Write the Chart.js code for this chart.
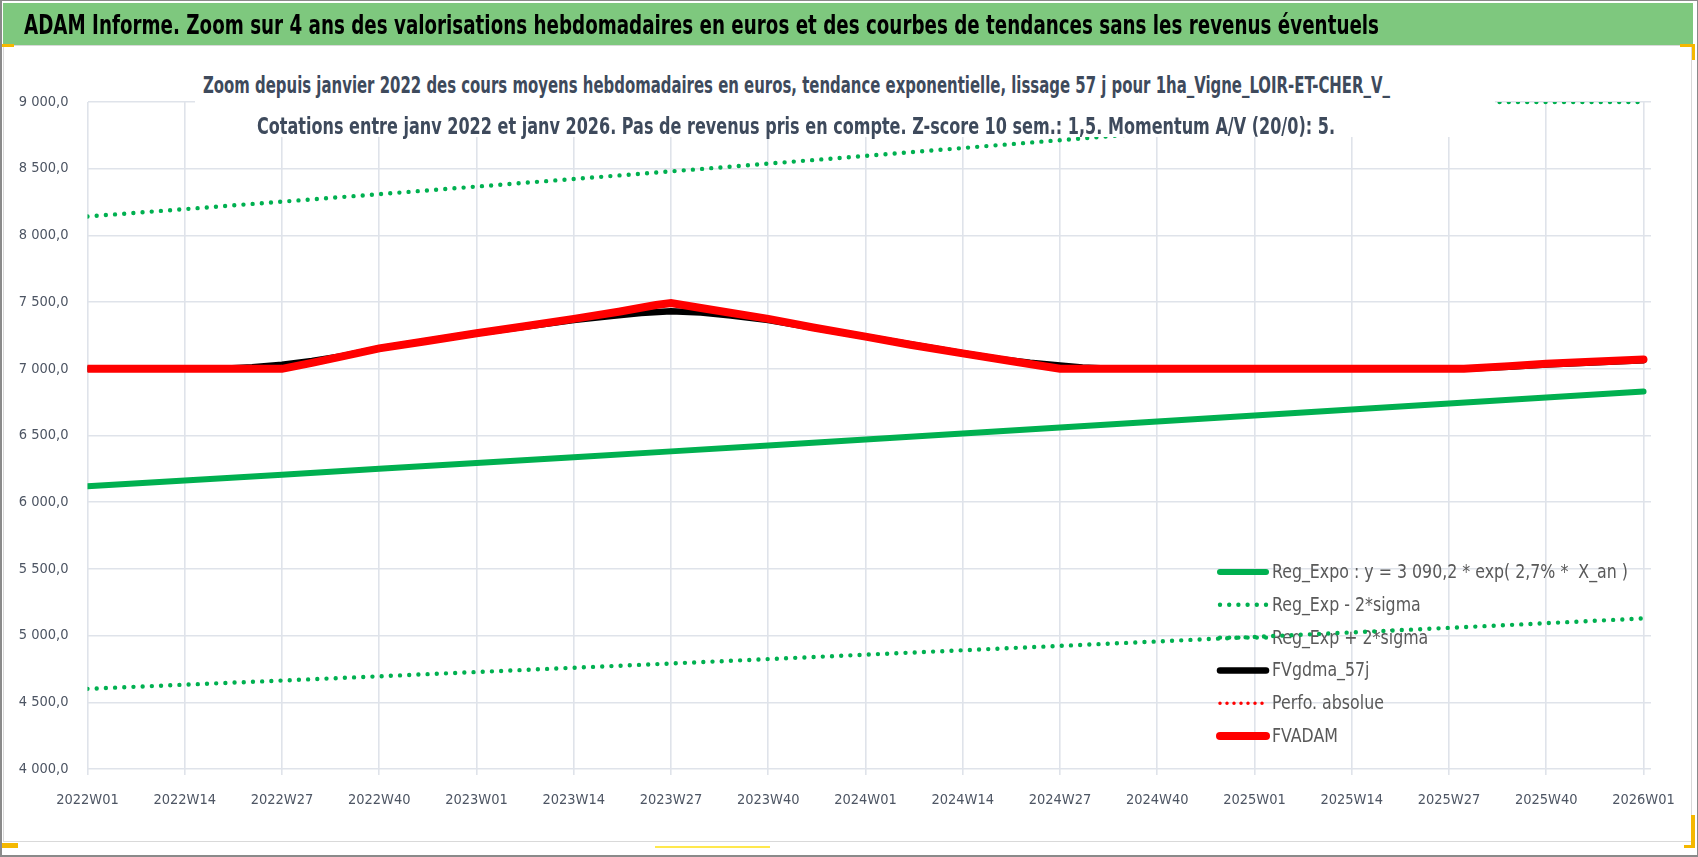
<!DOCTYPE html>
<html>
<head>
<meta charset="utf-8">
<script src="https://cdn.jsdelivr.net/npm/chart.js@4.4.1/dist/chart.umd.min.js"></script>
<style>
  html, body { margin: 0; padding: 0; background: #fff; }
  #page { position: relative; width: 1698px; height: 857px; overflow: hidden; background: #fff; }
  #outer { position: absolute; left: 0; top: 0; width: 1698px; height: 857px; box-sizing: border-box;
           border: 1px solid #8a8a8a; border-left-width: 2px; border-bottom-width: 2px; z-index: 6; pointer-events: none; }
  #box { position: absolute; left: 3px; top: 45px; width: 1689px; height: 797px; box-sizing: border-box;
         border: 1px solid #d9d9d9; }
  #banner { position: absolute; left: 3px; top: 3px; width: 1690px; height: 42px; background: #7ec87e; z-index: 2; }
  #chartCanvas { position: absolute; left: 0; top: 0; z-index: 3; }
  #subBox { position: absolute; left: 195px; top: 60px; width: 1300px; height: 77px; background: #fff; z-index: 4; }
  .txt { position: absolute; white-space: nowrap; line-height: 1; z-index: 5; }
  #bannerText { color: #000; font-weight: 600; transform-origin: 0 50%; }
  .sub { color: #3e4a5c; font-weight: 700; transform-origin: 0 50%; }
  .mark { position: absolute; background: #f5b800; z-index: 7; }
</style>
</head>
<body>
<div id="page">
  <div id="box"></div>
  <div id="banner"></div>
  <canvas id="chartCanvas" width="1698" height="857"></canvas>
  <div id="subBox"></div>
  <div id="bannerText" class="txt">ADAM Informe. Zoom sur 4 ans des valorisations hebdomadaires en euros et des courbes de tendances sans les revenus éventuels</div>
  <div id="sub1" class="txt sub">Zoom depuis janvier 2022 des cours moyens hebdomadaires en euros, tendance exponentielle, lissage 57 j pour 1ha_Vigne_LOIR-ET-CHER_V_</div>
  <div id="sub2" class="txt sub">Cotations entre janv 2022 et janv 2026. Pas de revenus pris en compte. Z-score 10 sem.: 1,5. Momentum A/V (20/0): 5.</div>
  <div class="mark" style="left:2px;top:44px;width:12px;height:3px;"></div>
  <div class="mark" style="left:2px;top:843px;width:16px;height:5px;"></div>
  <div class="mark" style="left:1680px;top:44px;width:15px;height:3px;"></div>
  <div class="mark" style="left:1692px;top:44px;width:3px;height:16px;"></div>
  <div class="mark" style="left:1691px;top:815px;width:4px;height:33px;"></div>
  <div class="mark" style="left:1684px;top:845px;width:11px;height:3px;"></div>
  <div class="mark" style="left:655px;top:846px;width:115px;height:2px;background:#ffe84d;"></div>
  <div id="outer"></div>
</div>
<script>
// ---------- DATA ----------
// x = week index from 2022W01 (0) to 2026W01 (208)
const tickWeeks  = [0, 13, 26, 39, 52, 65, 78, 91, 104, 117, 130, 143, 156, 169, 182, 195, 208];
const tickLabels = ['2022W01','2022W14','2022W27','2022W40','2023W01','2023W14','2023W27','2023W40',
                    '2024W01','2024W14','2024W27','2024W40','2025W01','2025W14','2025W27','2025W40','2026W01'];

const seriesNames = [
  'Reg_Expo : y = 3 090,2 * exp( 2,7% *  X_an )',
  'Reg_Exp - 2*sigma',
  'Reg_Exp + 2*sigma',
  'FVgdma_57j',
  'Perfo. absolue',
  'FVADAM'
];

// Exponential trend (quarterly readings)
const trendWeeks = [0, 13, 26, 39, 52, 65, 78, 91, 104, 117, 130, 143, 156, 169, 182, 195, 208];
const regExpo    = [6120, 6163, 6206, 6250, 6293, 6337, 6381, 6425, 6470, 6515, 6560, 6605, 6650, 6695, 6740, 6785, 6830];
const regExpMinus2Sigma = [4601, 4632, 4663, 4695, 4727, 4759, 4791, 4824, 4857, 4890, 4923, 4956, 4990, 5024, 5058, 5093, 5129];

const upperWeeks = [0, 13, 26, 39, 52, 65, 78, 91, 104, 117, 130, 143, 156, 169, 182, 188, 208];
const regExpPlus2Sigma  = [8142, 8197, 8253, 8309, 8366, 8423, 8480, 8538, 8596, 8655, 8714, 8773, 8833, 8893, 8954, 9000, 9000];

// FVgdma_57j (black, smoothed)
const gdmaWeeks = [0, 18, 22, 26, 30, 34, 39, 52, 65, 70, 74, 78, 82, 86, 91, 104, 117, 122, 126, 130, 133, 137, 184, 190, 195, 208];
const fvgdma57j = [7000, 7000, 7012, 7030, 7058, 7095, 7153, 7266, 7365, 7395, 7418, 7431, 7422, 7400, 7365, 7241, 7116, 7072, 7045, 7025, 7010, 7000, 7000, 7016, 7033, 7065];

// FVADAM (red)
const adamWeeks = [0, 26, 30, 35, 39, 45, 52, 58, 65, 71, 76, 78, 82, 91, 97, 104, 110, 117, 123, 127, 130, 184, 190, 195, 201, 208];
const fvadam    = [7000, 7000, 7045, 7105, 7153, 7205, 7266, 7315, 7374, 7428, 7478, 7493, 7456, 7374, 7310, 7241, 7180, 7116, 7062, 7027, 7000, 7000, 7020, 7037, 7052, 7070];

// Perfo. absolue (red dotted, hidden under FVADAM)
const perfoWeeks   = [0, 26, 39, 52, 65, 78, 91, 104, 117, 130, 184, 195, 208];
const perfoAbsolue = [7000, 7000, 7153, 7266, 7374, 7493, 7374, 7241, 7116, 7000, 7000, 7037, 7070];

// ---------- FONT PICK ----------
function hasFont(f) {
  const c = document.createElement('canvas').getContext('2d');
  const t = '2022W01 Reg_Expo abcdefghijklmnop ADAM';
  c.font = '40px monospace'; const a = c.measureText(t).width;
  c.font = '40px "' + f + '", monospace'; const b = c.measureText(t).width;
  c.font = '40px serif'; const a2 = c.measureText(t).width;
  c.font = '40px "' + f + '", serif'; const b2 = c.measureText(t).width;
  return a !== b || a2 !== b2;
}
const FAMILY_NAME = ['Liberation Sans Narrow', 'DejaVu Sans Condensed', 'Open Sans', 'Liberation Sans'].find(hasFont) || 'sans-serif';
const FAMILY = '"' + FAMILY_NAME + '", sans-serif';

// ---------- DOM TEXT FIT ----------
function place(id, left, centerY, size, targetW) {
  const el = document.getElementById(id);
  el.style.fontFamily = FAMILY;
  el.style.fontSize = size + 'px';
  el.style.left = left + 'px';
  const r = el.getBoundingClientRect();
  el.style.top = (centerY - r.height / 2) + 'px';
  el.style.transform = 'scaleX(' + (targetW / r.width) + ')';
}
place('bannerText', 24, 25, 26, 1355);
place('sub1', 203, 85, 23, 1187);
place('sub2', 257, 126, 23, 1078);

// ---------- CHART ----------
const tickSize = 14.5;

function fmt(v) {
  const parts = Number(v).toFixed(1).split('.');
  return parts[0].replace(/\B(?=(\d{3})+(?!\d))/g, ' ') + ',' + parts[1];
}
function pts(xs, ys) { return xs.map((x, i) => ({ x: x, y: ys[i] })); }

const GREEN = '#00b050', RED = '#ff0000', BLACK = '#000000';
const LEG_X0 = 1220, LEG_X1 = 1266, LEG_TX = 1272, LEG_Y0 = 572, LEG_GAP = 32.8;

const legendPlugin = {
  id: 'insideLegend',
  beforeDatasetsDraw(chart) {
    const ctx = chart.ctx;
    ctx.save();
    ctx.font = '19.5px ' + FAMILY;
    const sx = 356 / ctx.measureText(seriesNames[0]).width;
    chart.data.datasets.forEach((ds, k) => {
      const y = LEG_Y0 + k * LEG_GAP;
      ctx.beginPath();
      ctx.strokeStyle = ds.borderColor;
      ctx.lineWidth = ds.borderWidth;
      ctx.lineCap = 'round';
      ctx.setLineDash(ds.borderDash || []);
      ctx.moveTo(LEG_X0, y); ctx.lineTo(LEG_X1, y);
      ctx.stroke();
      ctx.setLineDash([]);
      ctx.fillStyle = '#595959';
      ctx.textBaseline = 'middle';
      ctx.textAlign = 'left';
      ctx.save();
      ctx.translate(LEG_TX, y + 1);
      ctx.scale(sx, 1);
      ctx.fillText(ds.label, 0, 0);
      ctx.restore();
    });
    ctx.restore();
  }
};

new Chart(document.getElementById('chartCanvas'), {
  type: 'line',
  data: {
    datasets: [
      { label: seriesNames[0], data: pts(trendWeeks, regExpo), borderColor: GREEN, borderWidth: 6, order: 6, borderCapStyle: 'round' },
      { label: seriesNames[1], data: pts(trendWeeks, regExpMinus2Sigma), borderColor: GREEN, borderWidth: 4.4, borderDash: [0, 9.2], borderCapStyle: 'round', order: 5 },
      { label: seriesNames[2], data: pts(upperWeeks, regExpPlus2Sigma), borderColor: GREEN, borderWidth: 4.4, borderDash: [0, 9.2], borderCapStyle: 'round', order: 4 },
      { label: seriesNames[3], data: pts(gdmaWeeks, fvgdma57j), borderColor: BLACK, borderWidth: 6.5, order: 3, borderCapStyle: 'round' },
      { label: seriesNames[4], data: pts(perfoWeeks, perfoAbsolue), borderColor: RED, borderWidth: 3.5, borderDash: [0, 7], borderCapStyle: 'round', order: 2 },
      { label: seriesNames[5], data: pts(adamWeeks, fvadam), borderColor: RED, borderWidth: 8, order: 1, borderCapStyle: 'round' }
    ]
  },
  options: {
    responsive: false,
    animation: false,
    devicePixelRatio: 1,
    elements: { point: { radius: 0, hoverRadius: 0 }, line: { tension: 0, fill: false } },
    layout: { padding: { left: 0, top: 102, right: 47, bottom: 38 } },
    plugins: { legend: { display: false }, title: { display: false }, tooltip: { enabled: false } },
    scales: {
      x: {
        type: 'linear', min: 0, max: 209,
        afterBuildTicks: s => { s.ticks = tickWeeks.map(v => ({ value: v })); },
        afterFit: s => { s.height = 50; },
        ticks: {
          autoSkip: false, maxRotation: 0, minRotation: 0, padding: 17,
          color: '#4d5563', font: { family: FAMILY, size: tickSize },
          callback: v => { const i = tickWeeks.indexOf(v); return i >= 0 ? tickLabels[i] : ''; }
        },
        grid: { color: '#dfe3ea', lineWidth: 1.6, tickLength: 6, drawTicks: true },
        border: { display: false }
      },
      y: {
        min: 4000, max: 9000,
        afterFit: s => { s.width = 87.5; },
        ticks: { stepSize: 500, padding: 19, color: '#4d5563', font: { family: FAMILY, size: tickSize }, callback: v => fmt(v) },
        grid: { color: '#dfe3ea', lineWidth: 1.6, drawTicks: false },
        border: { display: false }
      }
    }
  },
  plugins: [legendPlugin]
});
</script>
</body>
</html>
